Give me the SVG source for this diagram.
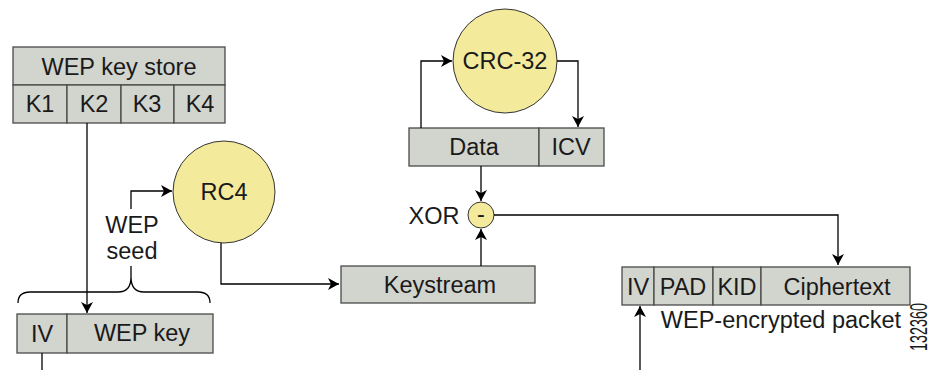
<svg xmlns="http://www.w3.org/2000/svg" width="928" height="370" viewBox="0 0 928 370">
<style>
.box{fill:#d2d4ce;stroke:#4a4a4a;stroke-width:1.3}
.circ{fill:#f3ea9c;stroke:#333;stroke-width:1}
.ln{fill:none;stroke:#000;stroke-width:1.3}
text{font-family:"Liberation Sans",Arial,sans-serif;font-size:23.5px;fill:#1a1a1a;text-anchor:middle;dominant-baseline:central}
</style>
<defs>
<marker id="ah" markerWidth="12" markerHeight="12" refX="11" refY="6" orient="auto" markerUnits="userSpaceOnUse">
<path d="M0,0 L11,6 L0,12 L3,6 Z" fill="#000"/>
</marker>
</defs>
<rect width="928" height="370" fill="#fff"/>
<g id="keystore">
<rect class="box" x="13" y="47" width="212" height="38"/>
<rect class="box" x="13" y="85" width="54" height="38"/>
<rect class="box" x="67" y="85" width="54" height="38"/>
<rect class="box" x="121" y="85" width="53" height="38"/>
<rect class="box" x="174" y="85" width="51" height="38"/>
<text x="119" y="67">WEP key store</text>
<text x="40" y="104">K1</text>
<text x="94" y="104">K2</text>
<text x="147" y="104">K3</text>
<text x="200" y="104">K4</text>
</g>
<g id="seed">
<rect class="box" x="17" y="314" width="50" height="39"/>
<rect class="box" x="67" y="314" width="146" height="39"/>
<text x="42" y="334">IV</text>
<text x="142" y="333">WEP key</text>
</g>
<g id="seedlabel">
<text x="132" y="225">WEP</text>
<text x="132" y="251">seed</text>
</g>
<g id="rc4">
<circle class="circ" cx="224" cy="192" r="51"/>
<text x="224" y="192">RC4</text>
</g>
<g id="crc">
<circle class="circ" cx="505" cy="61" r="52"/>
<text x="505" y="61">CRC-32</text>
</g>
<g id="dataicv">
<rect class="box" x="409" y="128" width="130" height="38"/>
<rect class="box" x="539" y="128" width="65" height="38"/>
<text x="474" y="147">Data</text>
<text x="571" y="147">ICV</text>
</g>
<g id="xor">
<circle class="circ" cx="481" cy="215" r="13"/>
<text x="481" y="214" font-size="18">-</text>
<text x="434" y="216">XOR</text>
</g>
<g id="keystream">
<rect class="box" x="341" y="266" width="194" height="37"/>
<text x="440" y="285">Keystream</text>
</g>
<g id="packet">
<rect class="box" x="622" y="267" width="32" height="38"/>
<rect class="box" x="654" y="267" width="59" height="38"/>
<rect class="box" x="713" y="267" width="48" height="38"/>
<rect class="box" x="761" y="267" width="149" height="38"/>
<text x="638" y="287">IV</text>
<text x="683" y="287">PAD</text>
<text x="737" y="287">KID</text>
<text x="837" y="287">Ciphertext</text>
<text x="781" y="320">WEP-encrypted packet</text>
</g>
<g id="connectors">
<path class="ln" d="M87,123 V313" marker-end="url(#ah)"/>
<path class="ln" d="M18,303 Q18,292 30,292 H118 Q131,292 131,277 Q131,292 144,292 H198 Q210,292 210,303"/>
<path class="ln" d="M131,277 V266"/>
<path class="ln" d="M131,209 V191 H172" marker-end="url(#ah)"/>
<path class="ln" d="M221,243 V284 H339" marker-end="url(#ah)"/>
<path class="ln" d="M481,266 V229" marker-end="url(#ah)"/>
<path class="ln" d="M481,166 V201" marker-end="url(#ah)"/>
<path class="ln" d="M421,128 V61 H452" marker-end="url(#ah)"/>
<path class="ln" d="M557,61 H578 V127" marker-end="url(#ah)"/>
<path class="ln" d="M494,215 H838 V265" marker-end="url(#ah)"/>
<path class="ln" d="M640,370 V306" marker-end="url(#ah)"/>
<path class="ln" d="M42,353 V370"/>
</g>
<g transform="translate(919 327) rotate(-90)">
<text x="0" y="0" font-size="12" textLength="48" lengthAdjust="spacingAndGlyphs">132360</text>
</g>
</svg>
